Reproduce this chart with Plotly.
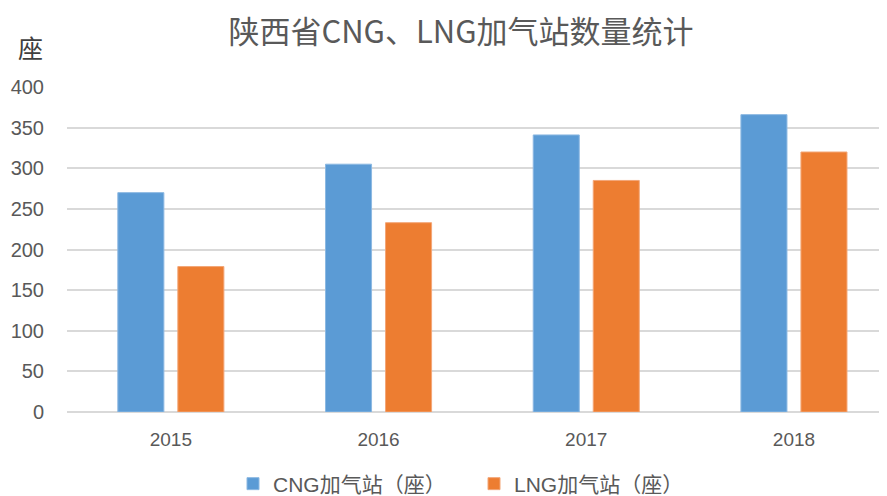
import plotly.graph_objects as go

years = ["2015", "2016", "2017", "2018"]
cng = [270, 305, 341, 366]
lng = [179, 233, 285, 320]
series_names = ["CNG加气站（座）", "LNG加气站（座）"]
y_ticks = [0, 50, 100, 150, 200, 250, 300, 350, 400]

# page body has an 8px margin, so the figure is laid out 8px smaller
W, H = 879, 488
font_main = "Liberation Sans, Noto Sans CJK SC, sans-serif"
fig = go.Figure()
fig.add_trace(go.Bar(x=years, y=cng, name=series_names[0], marker=dict(color="#5B9BD5", line=dict(color="#8CB8E2", width=1))))
fig.add_trace(go.Bar(x=years, y=lng, name=series_names[1], marker=dict(color="#ED7D31", line=dict(color="#F3A677", width=1))))

fig.update_layout(
    width=W, height=H,
    margin=dict(l=59, r=0, t=79, b=84, autoexpand=False),
    paper_bgcolor="white", plot_bgcolor="white",
    barmode="group", bargap=0.422, bargroupgap=0.233,
    title=dict(text="陕西省CNG、LNG加气站数量统计", x=453/W, xanchor="center", xref="container",
               y=1 - 24/H, yanchor="middle", yref="container",
               font=dict(family="Noto Sans CJK SC, serif", size=31, color="#595959")),
    xaxis=dict(type="category", range=[-0.5, 3.448], showgrid=False, showline=False, ticks="",
               ticklabelstandoff=14,
               tickfont=dict(family=font_main, size=19, color="#595959")),
    yaxis=dict(range=[0, 400], tickvals=y_ticks, showgrid=True, gridcolor="#D9D9D9", gridwidth=1.5,
               zeroline=True, zerolinecolor="#D9D9D9", zerolinewidth=1.5, ticks="", ticklabelstandoff=22,
               tickfont=dict(family=font_main, size=20, color="#595959")),
    legend=dict(orientation="h", xref="container", yref="paper", x=225/W, xanchor="left",
                y=(404 - 476) / 325, yanchor="middle", entrywidth=196, entrywidthmode="pixels",
                font=dict(family=font_main, size=21, color="#595959"), itemwidth=30, traceorder="normal"),
    showlegend=True,
)
fig.add_annotation(text="座", xref="paper", yref="paper", x=-37/820, y=1 + 40/325,
                   xanchor="center", yanchor="middle", showarrow=False,
                   font=dict(family="Noto Sans CJK SC, serif", size=25, color="#404040"))
fig.write_html("out.html")
